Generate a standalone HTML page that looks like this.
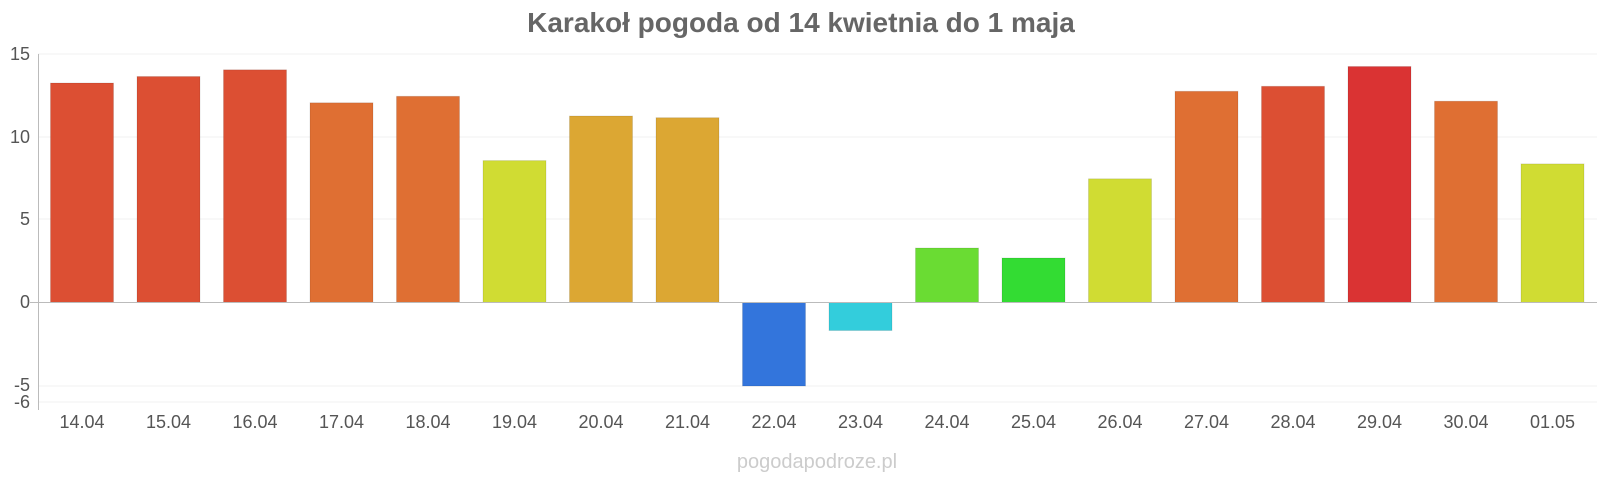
<!DOCTYPE html>
<html><head><meta charset="utf-8"><style>
body{margin:0;background:#fff;width:1600px;height:480px;overflow:hidden}
svg{font-family:"Liberation Sans",sans-serif}
</style></head><body>
<svg width="1600" height="480" xmlns="http://www.w3.org/2000/svg">
<text x="801" y="32" text-anchor="middle" font-size="28" font-weight="bold" fill="#666">Karakoł pogoda od 14 kwietnia do 1 maja</text>
<g stroke="#f0f0f0" stroke-width="1">
<line x1="38" x2="1597" y1="54" y2="54"/><line x1="38" x2="1597" y1="137" y2="137"/>
<line x1="38" x2="1597" y1="219" y2="219"/><line x1="38" x2="1597" y1="386" y2="386"/>
<line x1="38" x2="1597" y1="402" y2="402"/>
</g>
<g font-size="18" fill="#555" text-anchor="end">
<text x="30" y="60">15</text><text x="30" y="143">10</text><text x="30" y="225">5</text>
<text x="30" y="308">0</text><text x="30" y="391">-5</text><text x="30" y="408">-6</text>
</g>
<g stroke="rgba(0,0,0,0.1)">
<rect x="50.5" y="83" width="63" height="219.5" fill="#dc4f33"/>
<rect x="137" y="76.5" width="63" height="226" fill="#dc4f33"/>
<rect x="223.5" y="69.8" width="63" height="232.7" fill="#dc4f33"/>
<rect x="310" y="102.8" width="63" height="199.7" fill="#df6f33"/>
<rect x="396.5" y="96.3" width="63" height="206.2" fill="#df6f33"/>
<rect x="483" y="160.6" width="63" height="141.9" fill="#d0dc33"/>
<rect x="569.5" y="116" width="63" height="186.5" fill="#dca733"/>
<rect x="656" y="117.7" width="63" height="184.8" fill="#dca733"/>
<rect x="742.5" y="302.5" width="63" height="83.5" fill="#3375dc"/>
<rect x="829" y="302.5" width="63" height="28" fill="#33cddc"/>
<rect x="915.5" y="248" width="63" height="54.5" fill="#6adc33"/>
<rect x="1002" y="258" width="63" height="44.5" fill="#33dc33"/>
<rect x="1088.5" y="178.8" width="63" height="123.7" fill="#d0dc33"/>
<rect x="1175" y="91.3" width="63" height="211.2" fill="#df6f33"/>
<rect x="1261.5" y="86.3" width="63" height="216.2" fill="#dc4f33"/>
<rect x="1348" y="66.5" width="63" height="236" fill="#da3333"/>
<rect x="1434.5" y="101.2" width="63" height="201.3" fill="#df6f33"/>
<rect x="1521" y="163.9" width="63" height="138.6" fill="#d0dc33"/>
</g>
<line x1="38.5" x2="38.5" y1="54" y2="410" stroke="#bbb"/>
<line x1="30" x2="1597" y1="302.5" y2="302.5" stroke="#bbb"/>
<g font-size="18" fill="#555" text-anchor="middle">
<text x="82" y="428">14.04</text><text x="168.5" y="428">15.04</text><text x="255" y="428">16.04</text>
<text x="341.5" y="428">17.04</text><text x="428" y="428">18.04</text><text x="514.5" y="428">19.04</text>
<text x="601" y="428">20.04</text><text x="687.5" y="428">21.04</text><text x="774" y="428">22.04</text>
<text x="860.5" y="428">23.04</text><text x="947" y="428">24.04</text><text x="1033.5" y="428">25.04</text>
<text x="1120" y="428">26.04</text><text x="1206.5" y="428">27.04</text><text x="1293" y="428">28.04</text>
<text x="1379.5" y="428">29.04</text><text x="1466" y="428">30.04</text><text x="1552.5" y="428">01.05</text>
</g>
<text x="817" y="468" text-anchor="middle" font-size="20" fill="#ccc">pogodapodroze.pl</text>
</svg>
</body></html>
